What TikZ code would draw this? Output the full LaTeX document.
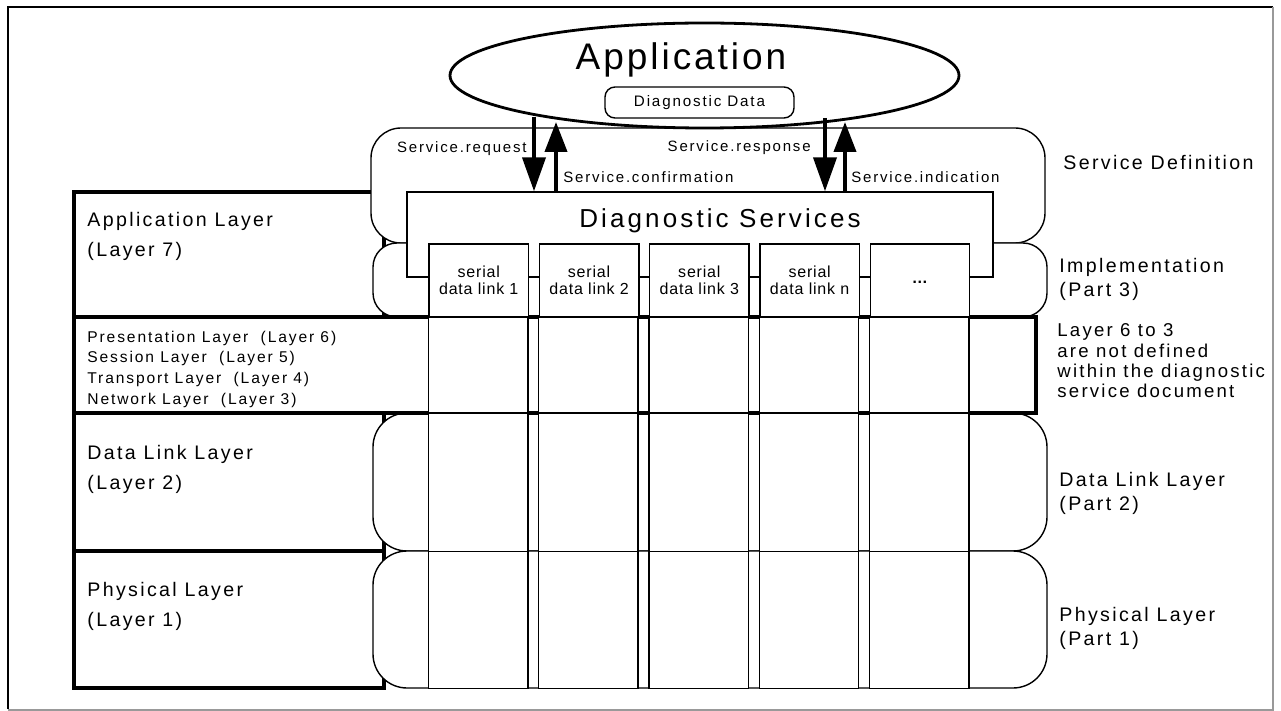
\documentclass[tikz,border=0pt]{standalone}
\usepackage{fontspec}
\setmainfont{Liberation Sans}[LetterSpace=12]
\usetikzlibrary{arrows.meta,shapes.geometric}

\newcommand{\fsz}[2]{\fontsize{#1}{#2}\selectfont}

\begin{document}
\begin{tikzpicture}[x=0.5pt,y=-0.5pt,
  heavy/.style={line width=1.6pt},
  roundbox/.style={draw,fill=white,line width=0.7pt,rounded corners=15pt},
  cellline/.style={draw,fill=white,line width=0.7pt},
  linkbox/.style={draw,fill=white,line width=0.7pt,minimum width=49.75pt,
    minimum height=36.5pt,inner sep=0pt,align=center,
    font=\fsz{8}{8.5}\addfontfeature{LetterSpace=5}},
  small/.style={font=\fsz{7.5}{10.5},inner sep=0pt},
  medium/.style={font=\fsz{9.8}{15},inner sep=0pt,align=left},
  partlabel/.style={font=\fsz{9.8}{12},inner sep=0pt,align=left},
  downarr/.style={line width=2pt,-{Triangle[length=17pt,width=11.5pt]}},
  uparr/.style={line width=2pt,-{Triangle[length=15pt,width=11pt]}}]
  \useasboundingbox (0,0) rectangle (1281,711);
  \draw[line width=1.2pt] (8,709) -- (8,7) -- (1273,7);
  \draw[line width=1pt,black!40] (1273,7) -- (1273,710) -- (8,710);

  \draw[heavy] (74,192) rectangle (384,317);
  \draw[heavy] (74,413) rectangle (384,551);
  \draw[heavy] (74,551) rectangle (384,688);

  \draw[roundbox] (371,128) rectangle (1045,243);
  \draw[roundbox,rounded corners=12pt] (373,243) rectangle (1047,317);
  \draw[roundbox,rounded corners=17pt] (373,413) rectangle (1047,551);
  \draw[roundbox,rounded corners=17pt] (373,551) rectangle (1047,688);
  \draw[heavy] (74,317) rectangle (1036,413);

  \node[ellipse,draw,fill=white,line width=1.4pt,minimum width=254.5pt,
    minimum height=52.5pt,inner sep=0pt] (app) at (704.5,75.5) {};
  \node[font=\fsz{18.5}{20}\addfontfeature{LetterSpace=8},inner sep=0pt,anchor=base]
    (apptxt) at (681,70) {Application};
  \node[draw,line width=0.7pt,rounded corners=5pt,minimum width=94.5pt,
    minimum height=15.5pt,inner sep=0pt,font=\fsz{7.6}{9}] (ddata) at (699.5,102.5) {Diagnostic Data};

  \node[draw,fill=white,line width=0.7pt,minimum width=293pt,minimum height=42.5pt,
    inner sep=0pt] (diag) at (700,234.5) {};
  \node[font=\fsz{13}{15},inner sep=0pt,anchor=base] (diagtxt) at (720,228) {Diagnostic Services};

  \foreach \i/\txt in {0/{serial\\data link 1},1/{serial\\data link 2},
      2/{serial\\data link 3},3/{serial\\data link n},4/{\raisebox{-3pt}{\bfseries …}}} {
    \node[linkbox] (link\i) at ({478.75+110.3*\i},280.5) {\txt};
    \draw[cellline] (link\i.south west) rectangle ++(99.5,95)
      ++(-99.5,1) rectangle ++(99.5,138) ++(-99.5,0) rectangle ++(99.5,137);
  }

  \coordinate (reqtop) at (534,117);
  \coordinate (conftip) at (556,122);
  \coordinate (resptop) at (825,118);
  \coordinate (indtip) at (845,122);
  \draw[downarr] (reqtop) -- (reqtop |- diag.north);
  \draw[uparr] (conftip |- diag.north) -- (conftip);
  \draw[downarr] (resptop) -- (resptop |- diag.north);
  \draw[uparr] (indtip |- diag.north) -- (indtip);

  \node[small,anchor=base east] (req) at (527,153) {Service.request};
  \node[small,anchor=base east] (resp) at (811,152) {Service.response};
  \node[small,anchor=base west] (conf) at (563,183) {Service.confirmation};
  \node[small,anchor=base west] (ind) at (851,183) {Service.indication};

  \node[medium,anchor=base west] (lay7) at (87,257) {Application Layer\\(Layer 7)};
  \node[small,font=\fsz{7.8}{10.5},align=left,anchor=base west] (lay36) at (87,405)
    {Presentation Layer~~(Layer 6)\\Session Layer~~(Layer 5)\\
     Transport Layer~~(Layer 4)\\Network Layer~~(Layer 3)};
  \node[medium,anchor=base west] (lay2) at (87,489) {Data Link Layer\\(Layer 2)};
  \node[medium,anchor=base west] (lay1) at (87,626) {Physical Layer\\(Layer 1)};

  \node[medium,anchor=base west] (sdef) at (1063,170) {Service Definition};
  \node[partlabel,anchor=base west] (impl) at (1059,297) {Implementation\\(Part 3)};
  \node[font=\fsz{9.3}{10.25},inner sep=0pt,align=left,anchor=base west] (undef) at (1057,398)
    {Layer 6 to 3\\are not defined\\within the diagnostic\\service document};
  \node[partlabel,anchor=base west] (part2) at (1059,510) {Data Link Layer\\(Part 2)};
  \node[partlabel,anchor=base west] (part1) at (1059,645) {Physical Layer\\(Part 1)};
\end{tikzpicture}
\end{document}
